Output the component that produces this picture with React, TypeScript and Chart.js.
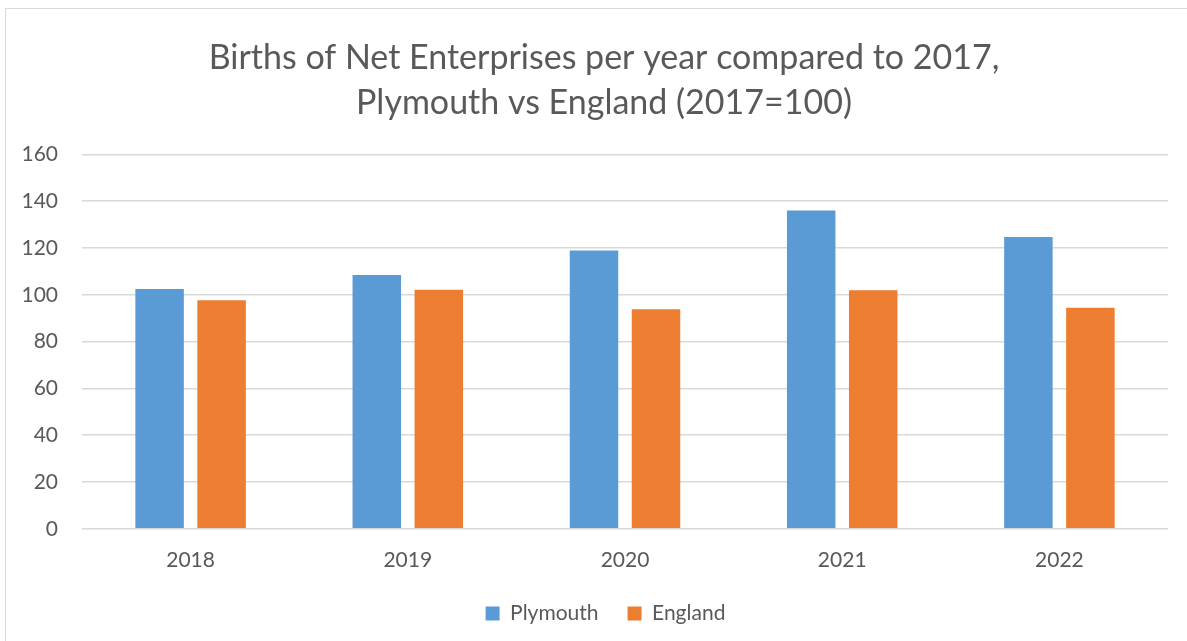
import React, { useEffect, useRef } from "react";
import { Chart, registerables } from "chart.js";

Chart.register(...registerables);

const titleLines = ["Births of Net Enterprises per year compared to 2017,", "Plymouth vs England (2017=100)"];
const years = ["2018", "2019", "2020", "2021", "2022"];
const plymouth = [102.5, 108.4, 118.9, 136.0, 124.7];
const england = [97.6, 102.1, 93.8, 101.9, 94.4];
const seriesNames = ["Plymouth", "England"];
const seriesColors = ["#5B9BD5", "#ED7D31"];
const yMin = 0;
const yMax = 160;
const yStep = 20;

const FONT = "Lato, 'Open Sans', sans-serif";
const TEXT = "#595959";

// Excel centres title and legend a little right of the canvas centre
const centreShift = {
  id: "centreShift",
  afterLayout(chart: any) {
    const shift = 20;
    if (chart.titleBlock) chart.titleBlock.left += shift;
    if (chart.legend) chart.legend.left += shift + 3;
  },
};

export default function App() {
  const ref = useRef<HTMLCanvasElement | null>(null);

  useEffect(() => {
    document.body.style.margin = "0";
    const canvas = ref.current;
    if (!canvas) return;
    const chart = new Chart(canvas, {
      type: "bar",
      data: {
        labels: years,
        datasets: [
          { label: seriesNames[0], data: plymouth, backgroundColor: seriesColors[0], borderWidth: 0 },
          { label: seriesNames[1], data: england, backgroundColor: seriesColors[1], borderWidth: 0 },
        ],
      },
      plugins: [centreShift],
      options: {
        animation: false,
        responsive: false,
        maintainAspectRatio: false,
        devicePixelRatio: 1,
        layout: { padding: { left: 20, right: 19, top: 0, bottom: 0 } },
        datasets: { bar: { categoryPercentage: 0.571, barPercentage: 0.782 } },
        plugins: {
          title: {
            display: true,
            text: titleLines,
            color: TEXT,
            font: { family: FONT, size: 34, weight: "normal", lineHeight: 45 / 34 },
            padding: { top: 36, bottom: 28.3 },
          },
          legend: {
            display: true,
            position: "bottom",
            labels: {
              color: TEXT,
              font: { family: FONT, size: 21 },
              boxWidth: 14,
              boxHeight: 14,
              padding: 29,
            },
          },
          tooltip: { enabled: false },
        },
        scales: {
          x: {
            grid: { display: false, drawTicks: false },
            border: { display: false },
            ticks: { color: TEXT, font: { family: FONT, size: 21 }, padding: 19, maxRotation: 0 },
            afterFit: (s: any) => { s.height = 45.2; },
          },
          y: {
            min: yMin,
            max: yMax,
            grid: { color: "#d9d9d9", lineWidth: 1.6, drawTicks: false },
            border: { display: false },
            ticks: { stepSize: yStep, color: TEXT, font: { family: FONT, size: 21 }, padding: 24 },
            afterFit: (s: any) => { s.width = 62; },
          },
        },
      },
    });
    return () => chart.destroy();
  }, []);

  return (
    <div style={{ position: "fixed", left: 0, top: 0, width: 1187, height: 641, overflow: "hidden", background: "#fff" }}>
      <div style={{ position: "absolute", left: 5, top: 8, width: 1200, height: 700, borderLeft: "1px solid #d9d9d9", borderTop: "1px solid #d9d9d9" }} />
      <canvas ref={ref} width={1187} height={634} style={{ position: "absolute", left: 0, top: 0, width: 1187, height: 634 }} />
    </div>
  );
}
